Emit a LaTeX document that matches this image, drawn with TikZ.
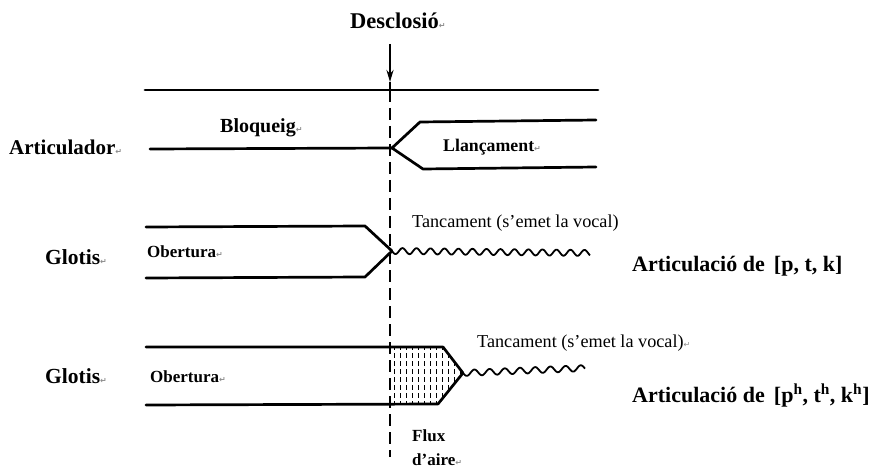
\documentclass[tikz,border=0pt]{standalone}
\usepackage{fontspec}
\setmainfont{Liberation Serif}
\newfontfamily\marksymfont{DejaVu Sans}
\usetikzlibrary{arrows.meta}
\newcommand\parmark{{\color{black!45}\marksymfont\fontsize{8}{8}\selectfont ↵}}
\begin{document}
\begin{tikzpicture}[x=1pt,y=-1pt,
  mainline/.style={line width=2.7pt, line cap=round, line join=round},
  bigl/.style={font=\bfseries\fontsize{21}{23}\selectfont, inner sep=0pt, anchor=base west},
  smalll/.style={font=\bfseries\fontsize{17}{19}\selectfont, inner sep=0pt, anchor=base west},
  regl/.style={font=\fontsize{18.2}{20}\selectfont, inner sep=0pt, anchor=base west},
  wave/.style={line width=1.8pt, line join=round},
  hatch/.style={line width=0.9pt, dash pattern=on 5pt off 3pt},
]
\useasboundingbox (0,0) rectangle (871,468);

% ---- coordinates ----
\coordinate (tl0) at (145,90);   \coordinate (tl1) at (598,90);
\coordinate (arS) at (390,44);   \coordinate (arE) at (390,82);
\coordinate (dS) at (390,90);    \coordinate (dE) at (390,457);
% articulador
\coordinate (a0) at (150,149);   \coordinate (aj) at (392,148);
\coordinate (au1) at (420,122);  \coordinate (au2) at (596,120);
\coordinate (ad1) at (423,169);  \coordinate (ad2) at (596,167);
% glotis 1
\coordinate (g1u0) at (146,227); \coordinate (g1u1) at (365,226);
\coordinate (g1d0) at (146,278); \coordinate (g1d1) at (365,277);
\coordinate (g1j) at (392,251);
% glotis 2
\coordinate (g2u0) at (146,347); \coordinate (g2u1) at (443,347);
\coordinate (g2d0) at (146,405); \coordinate (g2d1) at (438,404);
\coordinate (g2j) at (463,373);

% ---- top line and release arrow ----
\draw[mainline] (tl0) -- (tl1);
\draw[line width=2.4pt, -{Stealth[length=12pt,width=7pt]}] (arS) -- (arE);
\draw[line width=2.4pt] (arE) -- (dS);
\draw[line width=1.8pt, dash pattern=on 12pt off 6pt] (dS) -- (dE);

% ---- articulador ----
\draw[mainline] (a0) -- (aj);
\draw[mainline] (aj) -- (au1) -- (au2);
\draw[mainline] (aj) -- (ad1) -- (ad2);

% ---- glotis 1 ----
\draw[mainline] (g1u0) -- (g1u1) -- (g1j);
\draw[mainline] (g1d0) -- (g1d1) -- (g1j);
\draw[wave] plot[domain=0:198, samples=240, smooth]
  ({392+\x},{251+0.01*\x+3*sin(\x*25.714)});

% ---- glotis 2 ----
\begin{scope}
  \clip (390,347) -- (g2u1) -- (g2j) -- (g2d1) -- (390,404) -- cycle;
  \foreach \hx in {394,400,...,462}
    \draw[hatch] (\hx,345) -- (\hx,406);
\end{scope}
\draw[mainline] (g2u0) -- (g2u1) -- (g2j);
\draw[mainline] (g2d0) -- (g2d1) -- (g2j);
\draw[wave] plot[domain=0:122, samples=200, smooth]
  ({463+\x},{373-0.04*\x+3*sin(\x*23.684)});

% ---- labels ----
\node[bigl, font=\bfseries\fontsize{22.5}{24}\selectfont] (desc) at (350,29) {Desclosió\parmark};
\node[smalll, font=\bfseries\fontsize{20}{22}\selectfont] (bloq) at (220,133) {Bloqueig\parmark};
\node[bigl] (artic) at (9,155) {Articulador\parmark};
\node[smalll, font=\bfseries\fontsize{17.8}{19}\selectfont] (llan) at (443,152) {Llançament\parmark};
\node[bigl, font=\bfseries\fontsize{21.5}{23}\selectfont] (glot1) at (45,264) {Glotis\parmark};
\node[smalll] (obe1) at (147,258) {Obertura\parmark};
\node[regl] (tanc1) at (412,228) {Tancament (s’emet la vocal)};
\node[bigl, font=\bfseries\fontsize{22}{24}\selectfont] (art1) at (632,271) {Articulació de \,[p, t, k]};
\node[bigl, font=\bfseries\fontsize{21.5}{23}\selectfont] (glot2) at (45,383) {Glotis\parmark};
\node[smalll] (obe2) at (150,382) {Obertura\parmark};
\node[regl] (tanc2) at (477,347) {Tancament (s’emet la vocal)\parmark};
\node[bigl, font=\bfseries\fontsize{22}{24}\selectfont] (art2) at (632,402) {Articulació de \,[p\textsuperscript{h}, t\textsuperscript{h}, k\textsuperscript{h}]};
\node[smalll] (flux) at (412,441) {Flux};
\node[smalll] (aire) at (412,465) {d’aire\parmark};
\end{tikzpicture}
\end{document}
